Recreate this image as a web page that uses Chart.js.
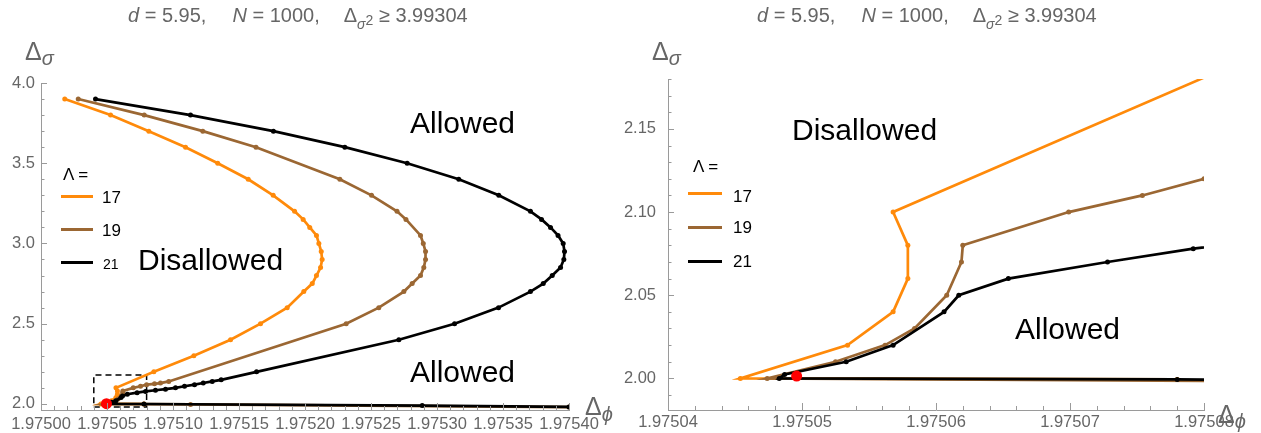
<!DOCTYPE html>
<html>
<head>
<meta charset="utf-8">
<script src="https://cdn.jsdelivr.net/npm/chart.js@4.4.1/dist/chart.umd.min.js"></script>
<style>
body { margin: 0; background: #fff; }
#wrap { position: relative; width: 1261px; height: 433px; overflow: hidden; font-family: "Liberation Sans", Arial, sans-serif; }
canvas { position: absolute; left: 0; top: 0; }
.t { position: absolute; white-space: nowrap; line-height: 1; }
.title { font-size: 20px; color: #666; }
.gap { display: inline-block; }
.axl { font-size: 25px; color: #666; }
.axl span { font-style: italic; font-size: 20px; position: relative; }
.lg { font-size: 17px; color: #000; }
.region { font-size: 30px; color: #000; }
.sw { position: absolute; height: 3px; }
</style>
</head>
<body>
<div id="wrap">
  <canvas id="leftChart" width="1261" height="433"></canvas>
  <canvas id="rightChart" width="1261" height="433"></canvas>

  <div class="t title" style="left:128px;top:5px"><i>d</i> = 5.95,<span class="gap" style="width:26px"></span><i>N</i> = 1000,<span class="gap" style="width:24px"></span>Δ<span style="position:relative;top:7px;font-size:14px;font-style:italic">σ</span><span style="position:relative;top:3px;font-size:14px">2</span> ≥ 3.99304</div>
  <div class="t title" style="left:757px;top:5px"><i>d</i> = 5.95,<span class="gap" style="width:26px"></span><i>N</i> = 1000,<span class="gap" style="width:24px"></span>Δ<span style="position:relative;top:7px;font-size:14px;font-style:italic">σ</span><span style="position:relative;top:3px;font-size:14px">2</span> ≥ 3.99304</div>

  <div class="t axl" style="left:25px;top:39px">Δ<span style="top:5px">σ</span></div>
  <div class="t axl" style="left:652px;top:39px">Δ<span style="top:5px">σ</span></div>
  <div class="t axl" style="left:585px;top:394px">Δ<span style="top:6px">ϕ</span></div>
  <div class="t axl" style="left:1218px;top:402px">Δ<span style="top:5px">ϕ</span></div>

  <div class="t lg" style="left:63px;top:166px">Λ =</div>
  <div class="sw" style="left:61px;top:195px;width:32px;background:#ff8a0a"></div>
  <div class="t lg" style="left:102px;top:189px">17</div>
  <div class="sw" style="left:61px;top:228px;width:32px;background:#9b6733"></div>
  <div class="t lg" style="left:102px;top:222px">19</div>
  <div class="sw" style="left:61px;top:261px;width:32px;background:#000"></div>
  <div class="t lg" style="left:103px;top:257px;font-size:14px">21</div>

  <div class="t lg" style="left:693px;top:158px">Λ =</div>
  <div class="sw" style="left:688px;top:192px;width:34px;background:#ff8a0a"></div>
  <div class="t lg" style="left:733px;top:188px">17</div>
  <div class="sw" style="left:688px;top:226px;width:34px;background:#9b6733"></div>
  <div class="t lg" style="left:733px;top:219px">19</div>
  <div class="sw" style="left:688px;top:260px;width:34px;background:#000"></div>
  <div class="t lg" style="left:733px;top:253px">21</div>

  <div class="t region" style="left:410px;top:108px">Allowed</div>
  <div class="t region" style="left:138px;top:245px">Disallowed</div>
  <div class="t region" style="left:410px;top:357px">Allowed</div>
  <div class="t region" style="left:792px;top:115px">Disallowed</div>
  <div class="t region" style="left:1015px;top:314px">Allowed</div>
</div>

<script>
// boundary curves, Delta_phi / Delta_sigma
const PHI_17 = [1.9750180, 1.9750527, 1.9750817, 1.9751095, 1.9751339, 1.9751570, 1.9751759, 1.9751921, 1.9751986, 1.9752036,
                1.9752087, 1.9752105, 1.9752123, 1.9752130, 1.9752118, 1.9752087, 1.9752055, 1.9751991, 1.9751865, 1.9751663,
                1.9751436, 1.9751158, 1.9750855, 1.9750568, 1.9750579, 1.9750579, 1.9750568, 1.9750534, 1.9750454, 1.9750780];
const SIG_17 = [3.9, 3.8, 3.7, 3.6, 3.5, 3.4, 3.3, 3.2, 3.15, 3.1,
                3.05, 3.0, 2.95, 2.9, 2.85, 2.8, 2.75, 2.7, 2.6, 2.5,
                2.4, 2.3, 2.2, 2.1, 2.08, 2.06, 2.04, 2.02, 2.0, 1.9994];

const PHI_19 = [1.9750282, 1.9750782, 1.9751226, 1.9751629, 1.9752264, 1.9752504, 1.9752697, 1.9752765, 1.9752875, 1.9752896,
                1.9752913, 1.9752913, 1.9752900, 1.9752875, 1.9752812, 1.9752749, 1.9752559, 1.9752312, 1.9750968, 1.9750905,
                1.9750860, 1.9750800, 1.9750754, 1.9750699, 1.9750620, 1.9750619, 1.9750608, 1.9750584, 1.9750562, 1.9750525,
                1.9750474, 1.9751133, 1.9754000];
const SIG_19 = [3.9, 3.8, 3.7, 3.6, 3.4, 3.3, 3.2, 3.15, 3.05, 3.0,
                2.95, 2.9, 2.85, 2.8, 2.75, 2.7, 2.6, 2.5, 2.14, 2.13,
                2.125, 2.12, 2.11, 2.10, 2.08, 2.07, 2.05, 2.03, 2.02, 2.01,
                2.0, 1.997, 1.98];

const PHI_21 = [1.9750413, 1.9751133, 1.9751761, 1.9752302, 1.9752774, 1.9753165, 1.9753468, 1.9753708, 1.9753792, 1.9753860,
                1.9753917, 1.9753956, 1.9753966, 1.9753961, 1.9753936, 1.9753873, 1.9753805, 1.9753708, 1.9753466, 1.9753133,
                1.9752711, 1.9751633, 1.9751365, 1.9751297, 1.9751229, 1.9751163, 1.9751087, 1.9751019, 1.9750943, 1.9750867,
                1.9750792, 1.9750728, 1.9750654, 1.9750617, 1.9750606, 1.9750568, 1.9750533, 1.9750487, 1.9750483, 1.9750780,
                1.9752888, 1.9754000];
const SIG_21 = [3.9, 3.8, 3.7, 3.6, 3.5, 3.4, 3.3, 3.2, 3.15, 3.1,
                3.05, 3.0, 2.95, 2.9, 2.85, 2.8, 2.75, 2.7, 2.6, 2.5,
                2.4, 2.2, 2.15, 2.14, 2.13, 2.12, 2.11, 2.10, 2.092, 2.085,
                2.078, 2.07, 2.06, 2.05, 2.04, 2.02, 2.01, 2.0024, 2.0, 1.9994,
                1.9895, 1.981];

const PHI_RED = [1.9750496];
const SIG_RED = [2.0014];

// zoom box drawn on the left panel (= range of the right panel)
const BOX_PHI = [1.97504, 1.97508, 1.97508, 1.97504, 1.97504];
const BOX_SIG = [1.98, 1.98, 2.18, 2.18, 1.98];

const LEFT_X_TICKS = [1.97500, 1.97505, 1.97510, 1.97515, 1.97520, 1.97525, 1.97530, 1.97535, 1.97540];
const LEFT_Y_TICKS = [2.0, 2.5, 3.0, 3.5, 4.0];
const RIGHT_X_TICKS = [1.97504, 1.97505, 1.97506, 1.97507, 1.97508];
const RIGHT_Y_TICKS = [2.00, 2.05, 2.10, 2.15];

const ORANGE = '#ff8a0a', BROWN = '#9b6733', BLACK = '#000000';
const AXIS_GRAY = '#9a9a9a';
const FONT = '"Liberation Sans", Arial, sans-serif';

function points(xs, ys) {
    return xs.map((x, i) => ({x: x, y: ys[i]}));
}

function minorTicks(from, to, step) {
    const out = [];
    const n = Math.round((to - from) / step);
    for (var i = 0; i <= n; i++) out.push(from + i * step);
    return out;
}

function curve(xs, ys, color) {
    return {
        data: points(xs, ys),
        showLine: true,
        borderColor: color,
        backgroundColor: color,
        borderWidth: 2.7,
        pointRadius: 2.5,
        pointHoverRadius: 0,
        pointBorderWidth: 0
    };
}

// inward Mathematica-like tick marks
const tickMarks = {
    id: 'tickMarks',
    afterDatasetsDraw(chart, args, opts) {
        const {ctx, chartArea: a, scales: {x, y}} = chart;
        ctx.save();
        ctx.strokeStyle = AXIS_GRAY;
        ctx.lineWidth = 1;
        function vline(v, len) {
            const px = Math.round(x.getPixelForValue(v)) + 0.5;
            ctx.beginPath(); ctx.moveTo(px, a.bottom); ctx.lineTo(px, a.bottom - len); ctx.stroke();
        }
        function hline(v, len) {
            const py = Math.round(y.getPixelForValue(v)) + 0.5;
            ctx.beginPath(); ctx.moveTo(a.left, py); ctx.lineTo(a.left + len, py); ctx.stroke();
        }
        opts.xMinor.forEach(v => { if (v >= x.min && v <= x.max) vline(v, 4); });
        opts.xMajor.forEach(v => vline(v, 7));
        opts.yMinor.forEach(v => { if (v >= y.min && v <= y.max) hline(v, 3.5); });
        opts.yMajor.forEach(v => hline(v, 6));
        ctx.restore();
    }
};

function makeChart(id, cfg) {
    const ctx = document.getElementById(id).getContext('2d');
    return new Chart(ctx, {
        type: 'scatter',
        data: {datasets: cfg.datasets},
        options: {
            responsive: false,
            animation: false,
            events: [],
            layout: {padding: cfg.padding},
            plugins: {
                legend: {display: false},
                tooltip: {enabled: false},
                tickMarks: cfg.marks
            },
            scales: {
                x: {
                    type: 'linear',
                    min: cfg.xMin, max: cfg.xMax,
                    grid: {display: false, drawTicks: false},
                    border: {display: true, color: AXIS_GRAY, width: 1},
                    ticks: {
                        color: '#666', padding: cfg.xPad, autoSkip: false, maxRotation: 0,
                        font: {family: FONT, size: 16.5},
                        callback: v => v.toFixed(5)
                    },
                    afterBuildTicks: s => { s.ticks = cfg.xTicks.map(v => ({value: v})); },
                    afterFit: s => { s.height = 23; }
                },
                y: {
                    type: 'linear',
                    min: cfg.yMin, max: cfg.yMax,
                    grid: {display: false, drawTicks: false},
                    border: {display: true, color: AXIS_GRAY, width: 1},
                    ticks: {
                        color: '#666', padding: cfg.yPad, autoSkip: false,
                        font: {family: FONT, size: 16.5},
                        callback: v => v.toFixed(cfg.yDigits)
                    },
                    afterBuildTicks: s => { s.ticks = cfg.yTicks.map(v => ({value: v})); },
                    afterFit: s => { s.width = cfg.yWidth; }
                }
            }
        },
        plugins: [tickMarks]
    });
}

const red = {
    data: points(PHI_RED, SIG_RED),
    backgroundColor: '#ff0000',
    pointRadius: 5.5,
    pointHoverRadius: 0,
    pointBorderWidth: 0
};

const box = {
    data: points(BOX_PHI, BOX_SIG),
    showLine: true,
    borderColor: '#000',
    borderWidth: 1.5,
    borderDash: [6, 4],
    pointRadius: 0
};

makeChart('leftChart', {
    datasets: [red, curve(PHI_21, SIG_21, BLACK), curve(PHI_19, SIG_19, BROWN), curve(PHI_17, SIG_17, ORANGE), box],
    padding: {left: 0, top: 83, right: 1261 - 569, bottom: 0},
    xMin: 1.975, xMax: 1.9754, yMin: 1.962, yMax: 4.0,
    xTicks: LEFT_X_TICKS, yTicks: LEFT_Y_TICKS,
    xPad: 5, yPad: 6, yWidth: 41, yDigits: 1,
    marks: {
        xMajor: LEFT_X_TICKS, yMajor: LEFT_Y_TICKS,
        xMinor: minorTicks(1.975, 1.9754, 0.00001),
        yMinor: minorTicks(2.0, 4.0, 0.1)
    }
});

makeChart('rightChart', {
    datasets: [red, curve(PHI_21, SIG_21, BLACK), curve(PHI_19, SIG_19, BROWN), curve(PHI_17, SIG_17, ORANGE)],
    padding: {left: 600, top: 79, right: 1261 - 1204, bottom: 0},
    xMin: 1.97504, xMax: 1.97508, yMin: 1.981, yMax: 2.18,
    xTicks: RIGHT_X_TICKS, yTicks: RIGHT_Y_TICKS,
    xPad: 3, yPad: 12, yWidth: 68, yDigits: 2,
    marks: {
        xMajor: RIGHT_X_TICKS, yMajor: RIGHT_Y_TICKS,
        xMinor: minorTicks(1.97504, 1.97508, 0.000002),
        yMinor: minorTicks(1.99, 2.18, 0.01)
    }
});
</script>
</body>
</html>
